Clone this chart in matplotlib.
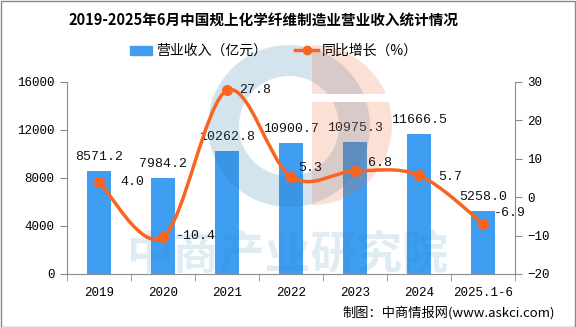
import numpy as np
import matplotlib as mpl
mpl.use('Agg')
import matplotlib.pyplot as plt
from matplotlib.path import Path
from matplotlib.patches import PathPatch, Wedge, Rectangle

# 2019-2025H1 chemical fibre manufacturing revenue + yoy growth

years = ['2019', '2020', '2021', '2022', '2023', '2024', '2025.1-6']
revenue = [8571.2, 7984.2, 10262.8, 10900.7, 10975.3, 11666.5, 5258.0]
growth = [4.0, -10.4, 27.8, 5.3, 6.8, 5.7, -6.9]
rev_ticks = [0, 4000, 8000, 12000, 16000]
growth_ticks = [-20, -10, 0, 10, 20, 30]

# label nudges for the growth values, in pixels (dx, dy up)
growth_label_offsets = [(21, 0), (13, 1), (12, 0), (7, 9), (13, 8), (19, -2), (11, 11)]

CJK = ['Noto Sans CJK SC', 'DejaVu Sans']
MONO = ['Liberation Mono', 'DejaVu Sans Mono']
plt.rcParams['font.family'] = CJK

BAR_C = '#3f9ef2'
LINE_C = '#fa6421'
AX_C = '#8c8c8c'

W, H = 576, 327
fig = plt.figure(figsize=(W / 100, H / 100), dpi=100)
L, R, T, B = 67, 515, 82, 274
pos = [L / W, 1 - B / H, (R - L) / W, (B - T) / H]

ax = fig.add_axes(pos)
x = np.arange(len(years))
ax.bar(x, revenue, width=0.36, color=BAR_C, zorder=2)
ax.set_xlim(-0.5, len(years) - 0.5)
ax.set_ylim(0, 16000)
ax.set_yticks(rev_ticks)
ax.set_xticks(x)
ax.set_xticklabels(years, fontfamily=MONO, fontsize=9)
ax.set_xticks(np.arange(len(years) + 1) - 0.5, minor=True)
ax.tick_params(axis='x', which='major', length=0, pad=9)
ax.tick_params(axis='x', which='minor', length=5, color=AX_C, direction='out')
ax.tick_params(axis='y', length=5, color=AX_C, direction='out', pad=4)
for lab in ax.get_yticklabels():
    lab.set_fontfamily(MONO)
    lab.set_fontsize(9)
for s in ['top', 'right']:
    ax.spines[s].set_visible(False)
for s in ['left', 'bottom']:
    ax.spines[s].set_color(AX_C)

for xi, v in zip(x, revenue):
    ax.annotate('%.1f' % v, (xi, v), xytext=(0, 6), textcoords='offset points',
                ha='center', va='bottom', fontsize=9.5, fontfamily=MONO, color='#111111')

# watermark layer in pixel coords (sits between bars and line)
wm = fig.add_axes([0, 0, 1, 1])
wm.set_xlim(0, W)
wm.set_ylim(H, 0)
wm.axis('off')
wm.patch.set_alpha(0)
wblue, worange = '#2a7ab0', '#eb642d'
ring = Wedge((289, 126), 81, 0, 360, width=31, color=wblue, alpha=0.2, lw=0)
ring.set_clip_path(Rectangle((0, 0), 297, H, transform=wm.transData))
wm.add_patch(ring)
half = Wedge((312, 125), 80, -90, 90, color=worange, alpha=0.2, lw=0)
wm.add_patch(half)
wm.add_patch(Rectangle((312, 94), 85, 8, color='white', lw=0))
wm.text(288, 256, '中商产业研究院', ha='center', va='center', fontsize=33,
        fontweight='bold', color=wblue, alpha=0.14)

ax2 = ax.twinx()
ax2.set_ylim(-20, 30)
ax2.set_yticks(growth_ticks)
ax2.tick_params(axis='y', length=5, color=AX_C, direction='out', pad=4)
for lab in ax2.get_yticklabels():
    lab.set_fontfamily(MONO)
    lab.set_fontsize(9)
for s in ['top', 'left', 'bottom']:
    ax2.spines[s].set_visible(False)
ax2.spines['right'].set_color(AX_C)

ax.set_zorder(1)
wm.set_zorder(2)
ax2.set_zorder(3)
ax2.patch.set_visible(False)

# smooth line: cardinal (catmull-rom) bezier through the points
pts = np.column_stack([x, growth]).astype(float)
ext = np.vstack([pts[0], pts, pts[-1]])
verts = [pts[0]]
codes = [Path.MOVETO]
for i in range(len(pts) - 1):
    p0, p1, p2, p3 = ext[i], ext[i + 1], ext[i + 2], ext[i + 3]
    verts += [p1 + (p2 - p0) / 6, p2 - (p3 - p1) / 6, p2]
    codes += [Path.CURVE4] * 3
ax2.add_patch(PathPatch(Path(verts, codes), fill=False, edgecolor=LINE_C, lw=2.5, zorder=3))
ax2.plot(x, growth, 'o', color=LINE_C, ms=7, zorder=4)

for xi, g, (dx, dy) in zip(x, growth, growth_label_offsets):
    ax2.annotate('%.1f' % g, (xi, g), xytext=(dx * 0.72, dy * 0.72), textcoords='offset points',
                 ha='left', va='center', fontsize=9.5, fontfamily=MONO, color='#111111')

fig.text(263 / W, 1 - 20 / H, '2019-2025年6月中国规上化学纤维制造业营业收入统计情况',
         ha='center', va='center', fontsize=10.5, fontweight='bold')

# legend
lh = [plt.Rectangle((0, 0), 1, 1, color=BAR_C),
      plt.Line2D([], [], color=LINE_C, lw=2.5, marker='o', ms=6)]
fig.legend(lh, ['营业收入（亿元）', '同比增长（%）'], loc='center',
           bbox_to_anchor=(274 / W, 1 - 51 / H), ncol=2, frameon=False,
           fontsize=10, handlelength=1.6, handleheight=0.6, columnspacing=2.0,
           handletextpad=0.3)

fig.text(555 / W, 1 - 313 / H, '制图：中商情报网(www.askci.com)', ha='right', va='center',
         fontsize=9.5)

fig.add_artist(Rectangle((0.5 / W, 0.5 / H), 1 - 1.5 / W, 1 - 1.5 / H, transform=fig.transFigure,
                         fill=False, edgecolor='#888888', lw=1))

fig.savefig('out.png', dpi=100)
